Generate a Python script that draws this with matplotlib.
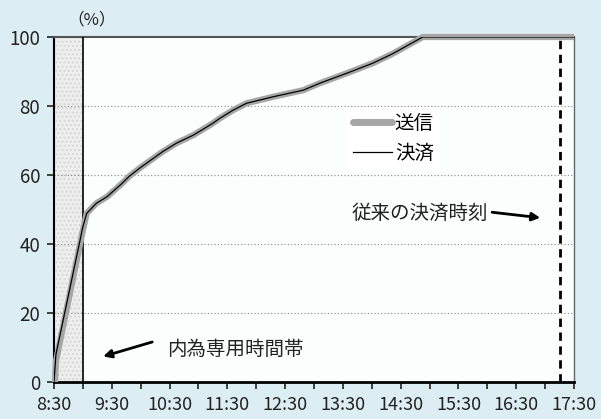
import matplotlib.pyplot as plt
import matplotlib.patches as mpatches
from matplotlib.lines import Line2D

plt.rcParams['font.family'] = ['Noto Sans CJK JP', 'DejaVu Sans']

# 送信・決済の累積比率（%）
times = ["8:30", "8:32", "9:00", "9:04", "9:14", "9:25", "9:40", "9:48",
         "9:59", "10:13", "10:23", "10:37", "10:55", "11:15", "11:22",
         "11:36", "11:50", "12:18", "12:49", "13:06", "13:34", "14:01",
         "14:22", "14:40", "14:53", "17:30"]
settle = [0, 8, 45, 48.9, 51.8, 53.7, 57.4, 59.6, 62, 64.8, 66.8, 69.2,
          71.6, 75, 76.4, 78.8, 80.8, 82.7, 84.6, 86.6, 89.5, 92.4, 95.2,
          98, 100, 100]
send_times = ["8:31"] + times[1:]
send = [0, 6, 44] + settle[3:]

tick_times = ["8:30", "9:30", "10:30", "11:30", "12:30", "13:30",
              "14:30", "15:30", "16:30", "17:30"]
old_settle_time = "17:15"
band_end = "9:00"


def to_min(t):
    h, m = t.split(":")
    return (int(h) - 8) * 60 + int(m) - 30


fig = plt.figure(figsize=(6.01, 4.19), dpi=100)
fig.patch.set_facecolor('#ddedf4')
ax = fig.add_axes([54 / 601, 1 - 382 / 419, 520 / 601, 345 / 419])
ax.set_facecolor('#fcfdfd')

# 内為専用時間帯の網掛け
ax.add_patch(mpatches.Rectangle((0, 0), to_min(band_end), 100,
                                facecolor='#eeeeee', edgecolor='#d6d6d6',
                                hatch='....', linewidth=0, zorder=1))
ax.axvline(to_min(band_end), color='black', lw=1.2, zorder=3)

for y in [20, 40, 60, 80]:
    ax.axhline(y, color='#888888', lw=0.8, ls=(0, (1, 2)), zorder=1)

ax.plot([to_min(t) for t in send_times], send, color='#a6a6a6', lw=4.5,
        solid_capstyle='butt', zorder=4, clip_on=False)
ax.plot([to_min(t) for t in times], settle, color='black', lw=0.9,
        zorder=5)

ax.axvline(to_min(old_settle_time), color='black', lw=2, ls=(0, (3, 2)),
           zorder=6)

ax.set_xlim(0, 540)
ax.set_ylim(0, 100)
ax.set_xticks(range(0, 541, 30))
ax.set_xticklabels([tick_times[i // 2] if i % 2 == 0 else ''
                    for i in range(19)])
ax.set_yticks([0, 20, 40, 60, 80, 100])
ax.tick_params(axis='x', direction='out', length=5, width=1.2, pad=5,
               labelsize=13, colors='#222222')
ax.tick_params(axis='y', direction='out', length=5, width=1.2, pad=5,
               labelsize=13.5, colors='#222222')

ax.spines['left'].set_linewidth(1.5)
ax.spines['bottom'].set_linewidth(2)
ax.spines['top'].set_color('#555555')
ax.spines['top'].set_linewidth(1.5)
ax.spines['right'].set_color('#666666')
ax.spines['right'].set_linewidth(1)

ax.text(0.072, 1.05, '（%）', transform=ax.transAxes, fontsize=12,
        ha='center', va='center', color='#222222')

handles = [Line2D([], [], color='#a6a6a6', lw=5, solid_capstyle='round'),
           Line2D([], [], color='black', lw=0.9)]
leg = ax.legend(handles, ['送信', '決済'], loc='upper left',
                bbox_to_anchor=(0.545, 0.825), frameon=True, fancybox=False,
                fontsize=14, handlelength=2.0, handletextpad=0.15,
                borderpad=0.3, labelspacing=0.45)
leg.get_frame().set_facecolor('white')
leg.get_frame().set_edgecolor('none')
leg.get_frame().set_alpha(1)

arrow = dict(arrowstyle='-|>', color='black', lw=2, mutation_scale=12,
             shrinkA=0, shrinkB=0)
ax.text(451, 49, '従来の決済時刻', fontsize=14, ha='right', va='center',
        color='#222222', zorder=7)
ax.annotate('', xy=(505, 47.6), xytext=(455, 49.2), arrowprops=arrow,
            zorder=7)
ax.text(117, 9.3, '内為専用時間帯', fontsize=14, ha='left', va='center',
        color='#222222', zorder=7)
ax.annotate('', xy=(51, 7.4), xytext=(102, 11.6), arrowprops=arrow,
            zorder=7)

fig.savefig('out.png', dpi=100, facecolor=fig.get_facecolor())
